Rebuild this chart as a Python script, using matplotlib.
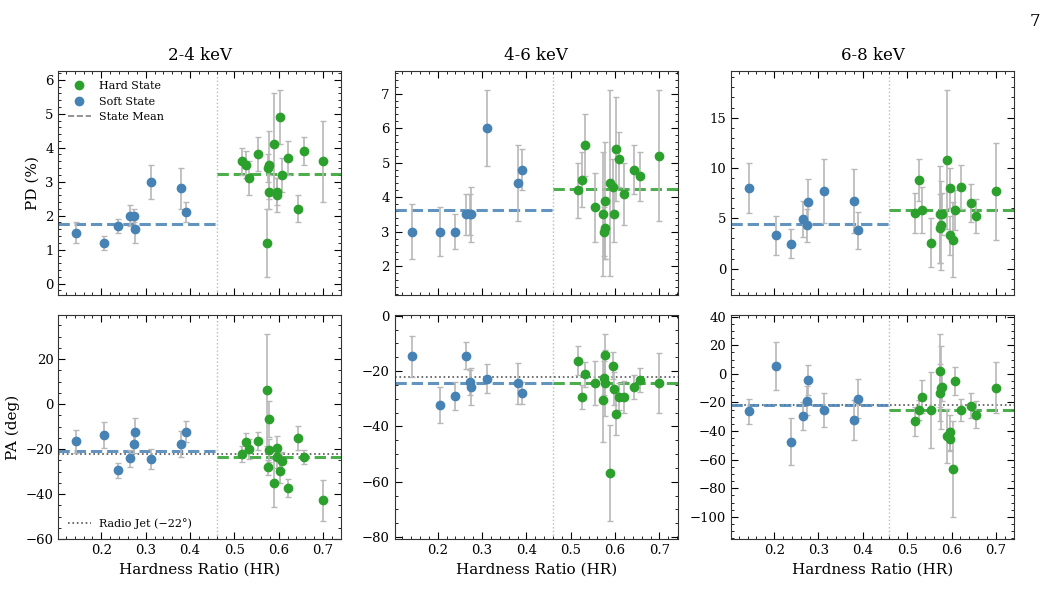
# hr_polarization.py
# PD and PA against hardness ratio in three energy bands,
# split into soft and hard state with the weighted state means.

import numpy as np
import matplotlib.pyplot as plt
from matplotlib.ticker import AutoMinorLocator
from matplotlib.lines import Line2D

plt.rcParams["font.family"] = "DejaVu Serif"
plt.rcParams["mathtext.fontset"] = "dejavuserif"

# hardness ratio of each observation
hr_soft = [0.143, 0.205, 0.238, 0.264, 0.273, 0.276, 0.312, 0.380, 0.390]
hr_hard = [0.517, 0.526, 0.533, 0.554, 0.573, 0.575, 0.577, 0.578, 0.589,
           0.596, 0.597, 0.603, 0.608, 0.621, 0.643, 0.656, 0.700]

bands = ["2-4 keV", "4-6 keV", "6-8 keV"]

# polarization degree (%)
pd_soft_24 = [1.5, 1.2, 1.7, 2.0, 2.0, 1.6, 3.0, 2.8, 2.1]
pd_soft_24_err = [0.3, 0.2, 0.2, 0.3, 0.2, 0.4, 0.5, 0.6, 0.3]
pd_hard_24 = [3.6, 3.5, 3.1, 3.8, 1.2, 3.4, 2.7, 3.5, 4.1, 2.7, 2.6, 4.9, 3.2, 3.7, 2.2, 3.9, 3.6]
pd_hard_24_err = [0.4, 0.4, 0.5, 0.5, 1.0, 0.4, 0.5, 1.0, 1.5, 0.4, 0.5, 0.8, 0.5, 0.5, 0.4, 0.4, 1.2]

pd_soft_46 = [3.0, 3.0, 3.0, 3.5, 3.5, 3.5, 6.0, 4.4, 4.8]
pd_soft_46_err = [0.8, 0.7, 0.5, 0.6, 0.6, 0.8, 1.1, 1.1, 0.6]
pd_hard_46 = [4.2, 4.5, 5.5, 3.7, 3.5, 3.0, 3.1, 3.9, 4.4, 4.3, 3.5, 5.4, 5.1, 4.1, 4.8, 4.6, 5.2]
pd_hard_46_err = [0.8, 0.8, 0.9, 1.0, 1.8, 0.7, 0.9, 1.7, 2.7, 0.8, 0.8, 1.5, 0.8, 0.9, 0.7, 0.7, 1.9]

pd_soft_68 = [8.0, 3.3, 2.5, 4.9, 4.3, 6.6, 7.7, 6.7, 3.8]
pd_soft_68_err = [2.5, 1.9, 1.4, 1.8, 1.6, 2.3, 3.2, 3.2, 1.8]
pd_hard_68 = [5.5, 8.8, 5.8, 2.6, 5.4, 4.0, 4.3, 5.4, 10.8, 8.0, 3.3, 2.9, 5.8, 8.1, 6.5, 5.2, 7.7]
pd_hard_68_err = [2.0, 2.1, 2.3, 2.4, 4.8, 3.4, 4.4, 2.1, 6.9, 2.0, 1.9, 3.7, 2.0, 2.2, 1.9, 1.7, 4.8]

# polarization angle (deg)
pa_soft_24 = [-16.5, -13.7, -29.4, -24.0, -17.6, -12.6, -24.3, -17.6, -12.3]
pa_soft_24_err = [5.0, 5.8, 3.3, 3.7, 4.0, 6.6, 4.5, 5.7, 4.6]
pa_hard_24 = [-22.2, -16.9, -20.0, -16.2, 6.4, -28.0, -20.5, -6.6, -34.9,
              -19.3, -23.3, -29.9, -25.3, -37.1, -15.0, -23.4, -42.7]
pa_hard_24_err = [3.5, 4.0, 4.3, 4.0, 24.8, 3.3, 5.0, 8.0, 10.6, 5.0, 5.0, 5.0, 4.0, 4.0, 5.5, 3.0, 9.0]

pa_soft_46 = [-14.7, -32.4, -29.0, -14.4, -24.1, -25.6, -22.7, -24.4, -28.0]
pa_soft_46_err = [7.5, 6.5, 5.0, 5.0, 4.5, 6.8, 5.3, 7.5, 4.0]
pa_hard_46 = [-16.2, -29.4, -21.2, -24.4, -30.3, -22.5, -14.2, -24.2, -56.8,
              -18.0, -26.3, -35.4, -29.2, -29.2, -25.7, -23.3, -24.4]
pa_hard_46_err = [5.2, 4.4, 4.4, 8.0, 15.3, 6.0, 7.7, 12.0, 17.4, 5.0, 6.0, 7.8, 5.0, 5.8, 4.3, 4.4, 10.8]

pa_soft_68 = [-26.2, 5.3, -47.4, -29.4, -18.7, -4.3, -25.2, -32.0, -17.3]
pa_soft_68_err = [8.9, 16.7, 16.6, 10.0, 10.0, 10.2, 11.7, 14.0, 13.6]
pa_hard_68 = [-33.2, -25.2, -16.0, -25.2, 2.3, -13.3, -9.6, -9.2, -43.6,
              -40.9, -45.7, -66.2, -4.9, -25.2, -22.2, -28.7, -9.6]
pa_hard_68_err = [10.2, 7.0, 11.4, 26.4, 25.4, 20.0, 29.0, 10.0, 19.0, 12.0, 8.0, 33.5, 10.0, 7.8, 8.5, 9.5, 17.7]

HR_SPLIT = 0.46
RADIO_JET = -22

pd_rows = [(pd_soft_24, pd_soft_24_err, pd_hard_24, pd_hard_24_err),
           (pd_soft_46, pd_soft_46_err, pd_hard_46, pd_hard_46_err),
           (pd_soft_68, pd_soft_68_err, pd_hard_68, pd_hard_68_err)]
pa_rows = [(pa_soft_24, pa_soft_24_err, pa_hard_24, pa_hard_24_err),
           (pa_soft_46, pa_soft_46_err, pa_hard_46, pa_hard_46_err),
           (pa_soft_68, pa_soft_68_err, pa_hard_68, pa_hard_68_err)]

pd_ylims = [(-0.35, 6.25), (1.15, 7.65), (-2.65, 19.6)]
pa_ylims = [(-60, 39.5), (-80.8, 0.25), (-115.6, 41)]
xlim = (0.103, 0.741)

c_hard = "#2ca02c"
c_soft = "#4682b4"


def wmean(v, e):
    # inverse-variance weighted mean
    w = 1 / np.asarray(e) ** 2
    return np.sum(np.asarray(v) * w) / np.sum(w)


def draw_panel(ax, data, ylim, pa=False):
    soft, soft_err, hard, hard_err = data
    ax.axvline(HR_SPLIT, color="#bbbbbb", ls=":", lw=1, zorder=1)
    if pa:
        ax.axhline(RADIO_JET, color="#555555", ls=":", lw=1.2, zorder=1.5)
    ax.errorbar(hr_soft, soft, yerr=soft_err, fmt="o", color=c_soft, ms=6,
                ecolor="#b8b8b8", elinewidth=1.2, capsize=2, capthick=1, zorder=3)
    ax.errorbar(hr_hard, hard, yerr=hard_err, fmt="o", color=c_hard, ms=6,
                ecolor="#b8b8b8", elinewidth=1.2, capsize=2, capthick=1, zorder=3)
    ax.plot([xlim[0], HR_SPLIT], [wmean(soft, soft_err)] * 2, ls="--",
            color=c_soft, lw=2.2, alpha=0.85, zorder=2)
    ax.plot([HR_SPLIT, xlim[1]], [wmean(hard, hard_err)] * 2, ls="--",
            color=c_hard, lw=2.2, alpha=0.85, zorder=2)
    ax.set_xlim(xlim)
    ax.set_ylim(ylim)
    ax.xaxis.set_minor_locator(AutoMinorLocator())
    ax.yaxis.set_minor_locator(AutoMinorLocator())
    ax.tick_params(which="both", direction="in", top=True, right=True, labelsize=9.5)
    ax.tick_params(which="major", length=5)
    ax.tick_params(which="minor", length=2.5)
    for s in ax.spines.values():
        s.set_color("#333333")


fig, axes = plt.subplots(2, 3, sharex=True, figsize=(10.53, 6.02), dpi=100)
fig.subplots_adjust(left=0.0554, right=0.963, bottom=0.1042, top=0.8816,
                    wspace=0.189, hspace=0.088)

for i in range(3):
    draw_panel(axes[0, i], pd_rows[i], pd_ylims[i])
    draw_panel(axes[1, i], pa_rows[i], pa_ylims[i], pa=True)
    axes[0, i].set_title(bands[i], fontsize=12, pad=8)
    axes[1, i].set_xlabel("Hardness Ratio (HR)", fontsize=11)

axes[0, 0].set_ylabel("PD (%)", fontsize=11)
axes[1, 0].set_ylabel("PA (deg)", fontsize=11)

# legends
handles = [Line2D([], [], ls="none", marker="o", color=c_hard, ms=6, label="Hard State"),
           Line2D([], [], ls="none", marker="o", color=c_soft, ms=6, label="Soft State"),
           Line2D([], [], ls="--", color="gray", lw=1.2, label="State Mean")]
axes[0, 0].legend(handles=handles, loc="upper left", fontsize=8, frameon=False)
jet = [Line2D([], [], ls=":", color="#555555", lw=1.2, label="Radio Jet (\u221222\u00b0)")]
axes[1, 0].legend(handles=jet, loc="lower left", fontsize=8, frameon=False)

fig.text(0.9875, 0.978, "7", fontsize=12, ha="right", va="top")

plt.savefig("out.png", dpi=100)
